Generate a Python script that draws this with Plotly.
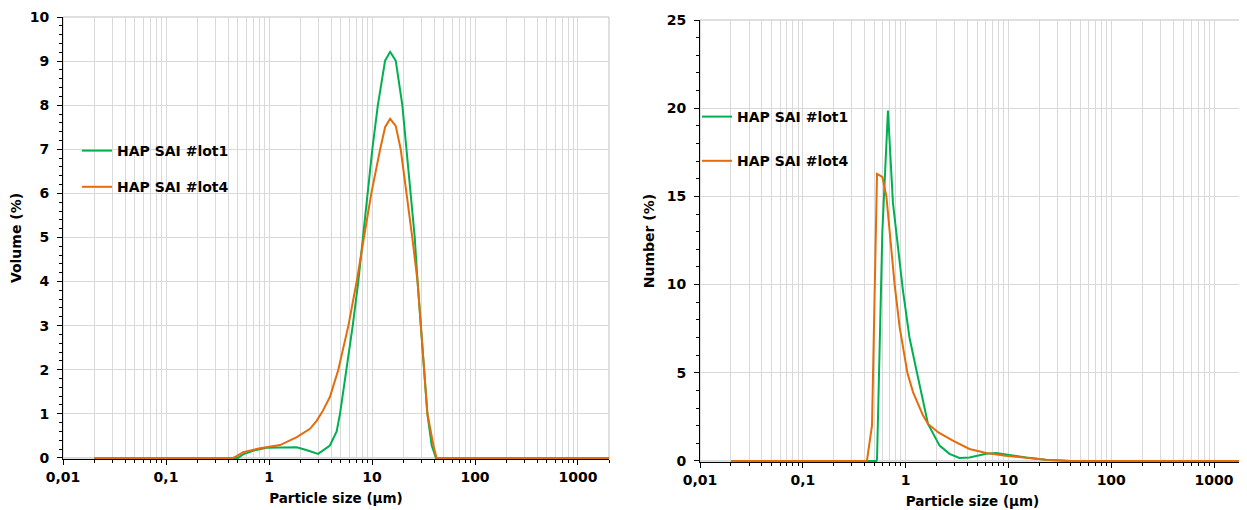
import plotly.graph_objects as go

# ---------------- data ----------------
vol_x_lot1 = [0.02, 0.5, 0.56, 0.71, 0.95, 1.28, 1.6, 1.86, 2.3, 3.0, 3.9, 4.54, 4.89, 5.68, 6.5, 7.36,
              8.18, 9.0, 10.07, 11.4, 13.4, 15.0, 17.0, 19.7, 21.5, 23.8, 26.0, 27.7, 29.7, 32.2, 34.5,
              38.0, 41.8, 2000]
vol_y_lot1 = [0, 0, 0.08, 0.165, 0.23, 0.24, 0.25, 0.24, 0.18, 0.09, 0.28, 0.6, 1.0, 2.0, 3.0, 4.0,
              5.0, 6.0, 7.0, 8.0, 9.01, 9.21, 9.01, 8.0, 7.0, 6.0, 5.0, 4.0, 3.0, 2.0, 1.0,
              0.28, 0, 0]

vol_x_lot4 = [0.02, 0.45, 0.485, 0.56, 0.82, 1.28, 1.86, 2.5, 2.9, 3.3, 3.9, 4.4, 4.71, 5.9, 7.1, 8.36, 9.85,
              12.0, 13.4, 15.0, 17.0, 19.0, 21.7, 24.6, 27.7, 29.7, 32.2, 34.5, 39.5, 42.3, 2000]
vol_y_lot4 = [0, 0, 0.04, 0.13, 0.22, 0.29, 0.47, 0.66, 0.84, 1.05, 1.38, 1.75, 2.0, 3.0, 4.0, 5.0, 6.0,
              7.0, 7.5, 7.69, 7.53, 7.0, 6.0, 5.0, 4.0, 3.0, 2.0, 1.0, 0.28, 0, 0]

num_x_lot1 = [0.02, 0.52, 0.527, 0.594, 0.673, 0.753, 0.94, 1.09, 1.29, 1.47, 1.65, 2.14, 2.67, 3.34,
              4.18, 6.07, 7.6, 10.2, 14.9, 23.0, 40.0, 2000]
num_y_lot1 = [0, 0, 0.1, 13.0, 19.87, 14.63, 9.7, 7.0, 5.0, 3.4, 2.1, 0.87, 0.4, 0.17,
              0.2, 0.41, 0.45, 0.34, 0.19, 0.07, 0, 0]

num_x_lot4 = [0.02, 0.42, 0.471, 0.527, 0.594, 0.65, 0.782, 0.874, 1.04, 1.18, 1.47, 1.65, 2.1, 2.88,
              4.18, 6.07, 9.4, 14.9, 23.2, 40.0, 2000]
num_y_lot4 = [0, 0, 2.0, 16.27, 16.1, 15.0, 10.0, 7.6, 5.0, 3.9, 2.6, 2.1, 1.6, 1.15,
              0.68, 0.45, 0.3, 0.17, 0.07, 0, 0]

series_names = ["HAP SAI #lot1", "HAP SAI #lot4"]
x_tick_vals = [0.01, 0.1, 1, 10, 100, 1000]
x_tick_text = ["0,01", "0,1", "1", "10", "100", "1000"]
x_title = "Particle size (µm)"
y_titles = ["Volume (%)", "Number (%)"]

# ---------------- style ----------------
GREEN = "#00B050"
ORANGE = "#E46C0A"
FONT = "DejaVu Sans"
GRID = "#d9d9d9"
OFF = 8                      # default page body margin
W, H = 1247 - OFF, 510 - OFF  # figure size so the page fills the window exactly


def px_x(p):  # page pixel -> paper x
    return (p - OFF) / W


def px_y(p):  # page pixel -> paper y
    return (H - (p - OFF)) / H


minor_vals = [k * 10 ** e for e in range(-2, 4) for k in range(2, 10) if k * 10 ** e <= 2000]

fig = go.Figure()

fig.add_trace(go.Scatter(x=vol_x_lot1, y=vol_y_lot1, mode="lines", name=series_names[0],
                         legendgroup="a1", line=dict(color=GREEN, width=2),
                         xaxis="x", yaxis="y", legend="legend"))
fig.add_trace(go.Scatter(x=vol_x_lot4, y=vol_y_lot4, mode="lines", name=series_names[1],
                         legendgroup="a4", line=dict(color=ORANGE, width=2),
                         xaxis="x", yaxis="y", legend="legend"))
fig.add_trace(go.Scatter(x=num_x_lot1, y=num_y_lot1, mode="lines", name=series_names[0],
                         legendgroup="b1", line=dict(color=GREEN, width=2),
                         xaxis="x2", yaxis="y2", legend="legend2"))
fig.add_trace(go.Scatter(x=num_x_lot4, y=num_y_lot4, mode="lines", name=series_names[1],
                         legendgroup="b4", line=dict(color=ORANGE, width=2),
                         xaxis="x2", yaxis="y2", legend="legend2"))


def xaxis_cfg(domain, anchor):
    return dict(
        type="log", domain=domain, anchor=anchor, range=[-2, 3.30103],
        tickmode="array", tickvals=x_tick_vals, ticktext=x_tick_text,
        ticks="outside", ticklen=5, tickcolor="#000", tickwidth=1,
        showline=True, linecolor="#000", linewidth=1,
        showgrid=True, gridcolor=GRID, gridwidth=1,
        minor=dict(tickmode="array", tickvals=minor_vals, ticks="outside", ticklen=3,
                   tickcolor="#000", showgrid=True, gridcolor=GRID, gridwidth=1),
        tickfont=dict(family=FONT, size=14, color="#000", weight="bold"),
        title=dict(text=x_title, font=dict(family=FONT, size=13.5, color="#000", weight="bold"),
                   standoff=9),
        automargin=False, zeroline=False, layer="below traces",
    )


def yaxis_cfg(domain, anchor, rng, dtick, minor_dtick, title):
    return dict(
        domain=domain, anchor=anchor, range=rng,
        tickmode="linear", tick0=0, dtick=dtick,
        ticks="outside", ticklen=5, tickcolor="#000", tickwidth=1,
        showline=True, linecolor="#000", linewidth=1,
        showgrid=True, gridcolor=GRID, gridwidth=1,
        minor=dict(tickmode="linear", tick0=0, dtick=minor_dtick, ticks="outside", ticklen=3,
                   tickcolor="#000", showgrid=False),
        tickfont=dict(family=FONT, size=14, color="#000", weight="bold"),
        ticklabelstandoff=5,
        title=dict(text=title, font=dict(family=FONT, size=14, color="#000", weight="bold"),
                   standoff=8),
        automargin=False, zeroline=False, layer="below traces",
    )


xd1 = [px_x(63), px_x(609)]
xd2 = [px_x(700), px_x(1245)]
yd1 = [px_y(459), px_y(17)]
yd2 = [px_y(462), px_y(20)]

legend_common = dict(
    bgcolor="rgba(0,0,0,0)", borderwidth=0,
    font=dict(family=FONT, size=14, color="#000", weight="bold"),
    xanchor="left", yanchor="top", traceorder="grouped", itemwidth=30,
)

fig.update_layout(
    width=W, height=H,
    margin=dict(l=0, r=0, t=0, b=0),
    paper_bgcolor="white", plot_bgcolor="white",
    xaxis=xaxis_cfg(xd1, "y"),
    yaxis=yaxis_cfg(yd1, "x", [-0.025, 10], 1, 0.2, y_titles[0]),
    xaxis2=xaxis_cfg(xd2, "y2"),
    yaxis2=yaxis_cfg(yd2, "x2", [-0.06, 25], 5, 1, y_titles[1]),
    legend=dict(legend_common, x=px_x(117 - 40), y=px_y(135), tracegroupgap=15),
    legend2=dict(legend_common, x=px_x(737 - 40), y=px_y(101), tracegroupgap=23),
    showlegend=True,
)

# light plot-area frame (top/right)
for xr, yr in (("x domain", "y domain"), ("x2 domain", "y2 domain")):
    fig.add_shape(type="rect", xref=xr, yref=yr, x0=0, x1=1, y0=0, y1=1,
                  line=dict(color="#bfbfbf", width=1), layer="below")

fig.write_html("out.html")
